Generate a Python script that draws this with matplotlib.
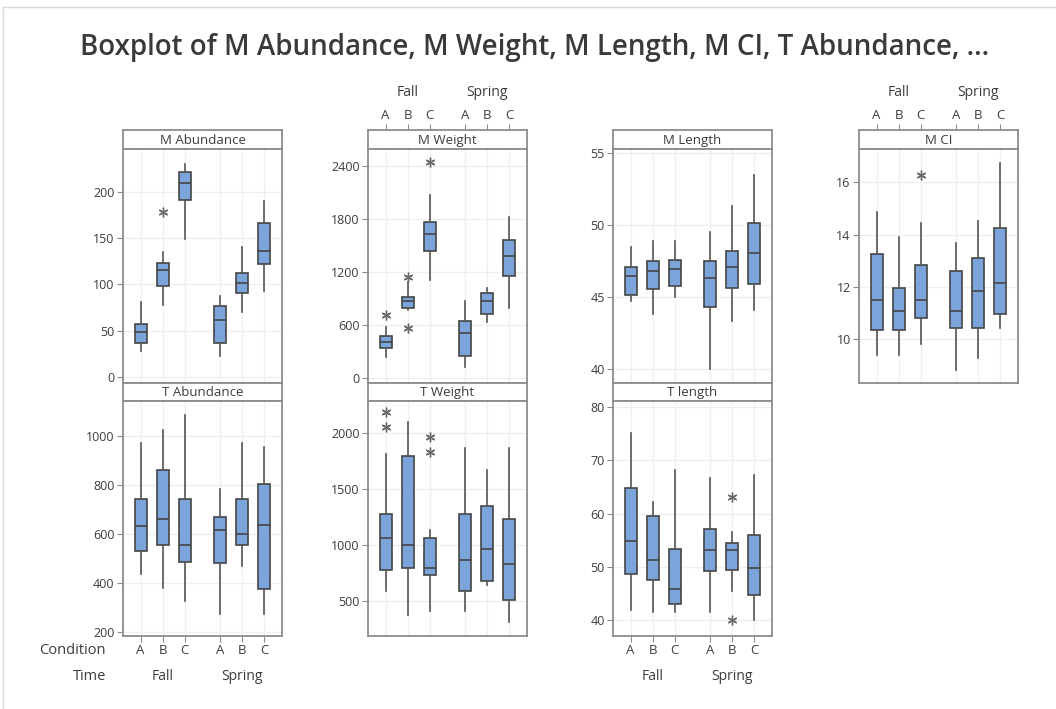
import matplotlib.pyplot as plt
from matplotlib.lines import Line2D

# Group order: Time x Condition
times = ['Fall', 'Spring']
conditions = ['A', 'B', 'C', 'A', 'B', 'C']

# Box statistics (whisker low, Q1, median, Q3, whisker high, outliers)
m_abund_lo = [28.4, 78, 149, 23, 70, 92.3]
m_abund_q1 = [36.6, 98.4, 191.4, 36.6, 90.5, 122.4]
m_abund_med = [49, 115, 209.7, 61, 101.6, 136.4]
m_abund_q3 = [57, 122.8, 221, 76.8, 112.7, 166]
m_abund_hi = [80.8, 135, 230, 87, 140.7, 190]
m_abund_out = [[], [177.7], [], [], [], []]

m_weight_lo = [235, 767, 1112, 125, 634, 797]
m_weight_q1 = [342, 797, 1431, 254, 721, 1158]
m_weight_med = [406, 873, 1625, 513, 873, 1374]
m_weight_q3 = [475, 911, 1769, 645, 957, 1557]
m_weight_hi = [577, 1082, 2069, 873, 1018, 1823]
m_weight_out = [[710], [1139, 570], [2438], [], [], []]

m_length_lo = [44.75, 43.84, 45.02, 40.0, 43.31, 44.12]
m_length_q1 = [45.12, 45.56, 45.76, 44.28, 45.67, 45.93]
m_length_med = [46.48, 46.85, 46.97, 46.32, 47.08, 48.1]
m_length_q3 = [47.08, 47.48, 47.59, 47.48, 48.24, 50.14]
m_length_hi = [48.52, 48.91, 48.91, 49.56, 51.34, 53.5]
m_length_out = [[], [], [], [], [], []]

m_ci_lo = [9.37, 9.37, 9.82, 8.82, 9.27, 10.4]
m_ci_q1 = [10.36, 10.33, 10.82, 10.4, 10.4, 10.97]
m_ci_med = [11.49, 11.06, 11.49, 11.06, 11.85, 12.15]
m_ci_q3 = [13.24, 11.97, 12.83, 12.6, 13.09, 14.24]
m_ci_hi = [14.88, 13.9, 14.46, 13.69, 14.53, 16.74]
m_ci_out = [[], [], [16.27], [], [], []]

t_abund_lo = [437, 378, 326, 271, 469, 271]
t_abund_q1 = [530, 554, 486, 480, 553, 374]
t_abund_med = [631, 661, 556, 614, 599, 638]
t_abund_q3 = [744, 863, 744, 669, 744, 803]
t_abund_hi = [973, 1025, 1085, 784, 973, 956]
t_abund_out = [[], [], [], [], [], []]

t_weight_lo = [590, 370, 410, 410, 639, 310]
t_weight_q1 = [778, 793, 726, 590, 675, 509]
t_weight_med = [1058, 998, 793, 862, 962, 832]
t_weight_q3 = [1279, 1798, 1061, 1279, 1345, 1230]
t_weight_hi = [1813, 2100, 1131, 1867, 1668, 1867]
t_weight_out = [[2190, 2054], [], [1961, 1828], [], [], []]

t_length_lo = [42, 41.6, 41.6, 41.6, 45.6, 40]
t_length_q1 = [48.7, 47.5, 43.1, 49.25, 49.5, 44.7]
t_length_med = [54.8, 51.4, 45.9, 53.1, 53.1, 49.9]
t_length_q3 = [64.8, 59.6, 53.4, 57.2, 54.5, 55.9]
t_length_hi = [75, 62.1, 68.1, 66.6, 56.6, 67.3]
t_length_out = [[], [], [], [], [63.1, 40], []]

# Figure geometry in pixels
W, H = 1056, 709
pos = [1, 2, 3, 4.6, 5.6, 6.6]
xlim = (0.2, 7.4)
panel_w = 159
col_x = [123, 368, 613, 859]

text_col = '#3c3c3c'
frame_col = '#8c8c8c'
box_col = '#7ba4da'
font = 'Open Sans'

plt.rcParams['font.family'] = [font, 'DejaVu Sans']


def rect(x0, y0, x1, y1):
    return [x0 / W, 1 - y1 / H, (x1 - x0) / W, (y1 - y0) / H]


def style_frame(ax):
    for s in ax.spines.values():
        s.set_color(frame_col)
        s.set_linewidth(1.3)


def add_group_labels(ax, side):
    # Condition letters and Time names
    ax.set_xticks(pos)
    ax.set_xticklabels(conditions)
    if side == 'bottom':
        ax.tick_params(axis='x', bottom=True, labelbottom=True, length=4,
                       color=frame_col, labelsize=9.5, labelcolor=text_col, pad=2)
        yfrac, off = 0, -40
    else:
        ax.xaxis.tick_top()
        ax.tick_params(axis='x', top=True, labeltop=True, length=4,
                       color=frame_col, labelsize=9.5, labelcolor=text_col, pad=2)
        yfrac, off = 1, 38
    for t, x in zip(times, [2, 5.6]):
        ax.annotate(t, xy=(x, yfrac), xycoords=('data', 'axes fraction'),
                    xytext=(0, off), textcoords='offset pixels',
                    ha='center', va='center', fontsize=10, color=text_col)


def draw_panel(col, row, name, lo, q1, med, q3, hi, out, yticks, ylim, labels=None):
    x0 = col_x[col]
    if row == 0:
        h0, h1, p1 = 130, 149, 383
    else:
        h0, h1, p1 = 383, 401, 636

    # header strip
    axh = fig.add_axes(rect(x0, h0, x0 + panel_w, h1))
    axh.set_xlim(xlim)
    axh.set_yticks([])
    axh.set_xticks([])
    style_frame(axh)
    axh.text(0.5, 0.45, name, transform=axh.transAxes, ha='center', va='center',
             fontsize=9.5, color=text_col)

    ax = fig.add_axes(rect(x0, h1, x0 + panel_w, p1))
    stats = []
    for i in range(6):
        stats.append(dict(whislo=lo[i], q1=q1[i], med=med[i], q3=q3[i],
                          whishi=hi[i], fliers=out[i]))
    ax.bxp(stats, positions=pos, widths=0.54, patch_artist=True, showcaps=False,
           boxprops=dict(facecolor=box_col, edgecolor='#454545', linewidth=1.2),
           medianprops=dict(color='#454545', linewidth=1.2),
           whiskerprops=dict(color='#555555', linewidth=1.2),
           flierprops=dict(marker=(6, 2, 0), markersize=7, markeredgecolor='#6a6a6a',
                           markeredgewidth=1.0, linestyle='none'))
    ax.set_xlim(xlim)
    ax.set_ylim(ylim)
    ax.set_yticks(yticks)
    ax.set_xticks(pos)
    ax.set_xticklabels([])
    ax.tick_params(axis='x', bottom=False, labelbottom=False)
    ax.tick_params(axis='y', length=4, color=frame_col, labelsize=9,
                   labelcolor=text_col, pad=2)
    ax.set_axisbelow(True)
    ax.grid(True, color='#efefef', linewidth=0.9)
    style_frame(ax)

    if labels == 'bottom':
        add_group_labels(ax, 'bottom')
    elif labels == 'top':
        add_group_labels(axh, 'top')
    return ax


fig = plt.figure(figsize=(W / 100, H / 100), dpi=100)

# light outer frame
fig.add_artist(Line2D([3 / W, 3 / W], [0, 1 - 7 / H], color='#d8d8d8', lw=1))
fig.add_artist(Line2D([3 / W, 1], [1 - 7 / H, 1 - 7 / H], color='#d8d8d8', lw=1))

fig.text(535 / W, 1 - 47 / H,
         'Boxplot of M Abundance, M Weight, M Length, M CI, T Abundance, ...',
         ha='center', va='center', fontsize=20, fontweight='semibold', color='#3a3a3a')

draw_panel(0, 0, 'M Abundance', m_abund_lo, m_abund_q1, m_abund_med, m_abund_q3,
           m_abund_hi, m_abund_out, [0, 50, 100, 150, 200], (-6.5, 246))
draw_panel(1, 0, 'M Weight', m_weight_lo, m_weight_q1, m_weight_med, m_weight_q3,
           m_weight_hi, m_weight_out, [0, 600, 1200, 1800, 2400], (-57, 2590), labels='top')
draw_panel(2, 0, 'M Length', m_length_lo, m_length_q1, m_length_med, m_length_q3,
           m_length_hi, m_length_out, [40, 45, 50, 55], (39.03, 55.3))
draw_panel(3, 0, 'M CI', m_ci_lo, m_ci_q1, m_ci_med, m_ci_q3,
           m_ci_hi, m_ci_out, [10, 12, 14, 16], (8.31, 17.28), labels='top')
draw_panel(0, 1, 'T Abundance', t_abund_lo, t_abund_q1, t_abund_med, t_abund_q3,
           t_abund_hi, t_abund_out, [200, 400, 600, 800, 1000], (182, 1144), labels='bottom')
draw_panel(1, 1, 'T Weight', t_weight_lo, t_weight_q1, t_weight_med, t_weight_q3,
           t_weight_hi, t_weight_out, [500, 1000, 1500, 2000], (183, 2287))
draw_panel(2, 1, 'T length', t_length_lo, t_length_q1, t_length_med, t_length_q3,
           t_length_hi, t_length_out, [40, 50, 60, 70, 80], (37.1, 81.06), labels='bottom')

fig.text(106 / W, 1 - 651 / H, 'Condition', ha='right', va='center', fontsize=10.5, color=text_col)
fig.text(106 / W, 1 - 676 / H, 'Time', ha='right', va='center', fontsize=10.5, color=text_col)

fig.savefig('out.png', dpi=100, facecolor='white')
